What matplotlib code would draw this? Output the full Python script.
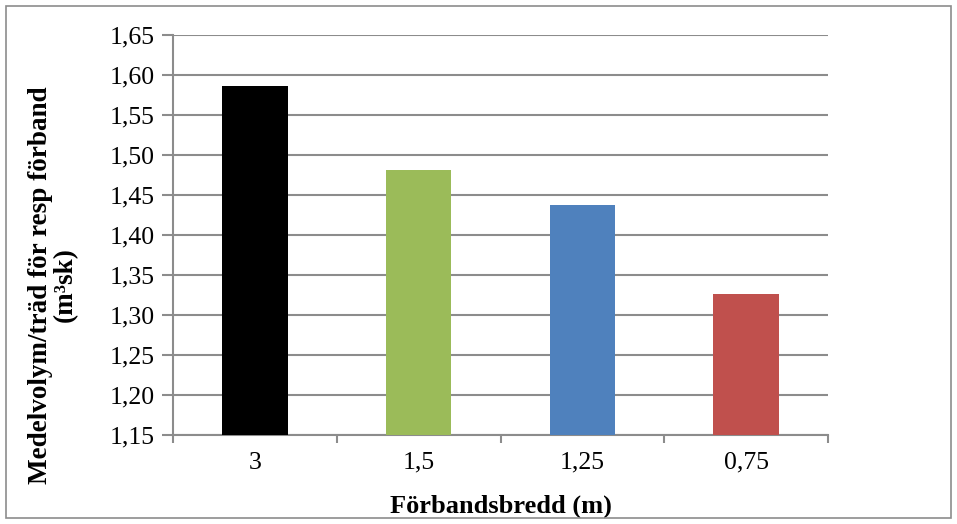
import matplotlib
matplotlib.use("Agg")
import matplotlib.pyplot as plt
from matplotlib.patches import Rectangle
from matplotlib.ticker import FuncFormatter, MultipleLocator, FixedLocator
import numpy as np

WIDTH = 957
HEIGHT = 524
DPI = 100

categories = ["3", "1,5", "1,25", "0,75"]
values = [1.586, 1.481, 1.437, 1.326]
colors = ["#000000", "#9bbb59", "#4f81bd", "#c0504d"]

GRID = "#8c8c8c"


def create_chart():
    plt.rcParams["font.family"] = ["Liberation Serif", "DejaVu Serif"]
    fig = plt.figure(figsize=(WIDTH / DPI, HEIGHT / DPI), dpi=DPI)
    ax = fig.add_axes([173 / WIDTH, 1 - 435 / HEIGHT,
                       (828 - 173) / WIDTH, (435 - 35) / HEIGHT])

    idx = np.arange(len(values))
    ax.bar(idx, values, 0.40, color=colors, zorder=3, bottom=0)

    ax.set_xlim(-0.5, len(values) - 0.5)
    ax.set_ylim(1.15, 1.65)
    ax.yaxis.set_major_locator(MultipleLocator(0.05))
    ax.yaxis.set_major_formatter(FuncFormatter(lambda v, p: f"{v:.2f}".replace(".", ",")))
    ax.grid(axis="y", color=GRID, linewidth=1.5, zorder=0)

    ax.set_xticks(idx)
    ax.set_xticklabels(categories)
    ax.xaxis.set_minor_locator(FixedLocator(np.arange(-0.5, len(values), 1.0)))
    ax.tick_params(axis="x", which="major", length=0, labelsize=18.5, pad=12)
    ax.tick_params(axis="x", which="minor", length=6, color=GRID, width=1.5)
    ax.tick_params(axis="y", length=8, color=GRID, width=1.5, labelsize=18.5, pad=5)

    for side in ("top", "right"):
        ax.spines[side].set_visible(False)
    for side in ("left", "bottom"):
        ax.spines[side].set_color(GRID)
        ax.spines[side].set_linewidth(1.5)

    ax.set_xlabel("Förbandsbredd (m)", fontsize=19, fontweight="bold", labelpad=15)
    ax.set_ylabel("Medelvolym/träd för resp förband\n(m³sk)", fontsize=19.5,
                  fontweight="bold", linespacing=1.0)
    ax.yaxis.set_label_coords(-0.145, 0.375)

    # outer frame around the chart
    fig.patches.append(Rectangle((6 / WIDTH, 6 / HEIGHT), 945 / WIDTH, 512 / HEIGHT,
                                 transform=fig.transFigure, fill=False,
                                 edgecolor="#8c8c8c", linewidth=1.2))
    return fig


def main():
    fig = create_chart()
    fig.savefig("out.png", dpi=DPI, facecolor="white")
    plt.close(fig)


if __name__ == "__main__":
    main()
